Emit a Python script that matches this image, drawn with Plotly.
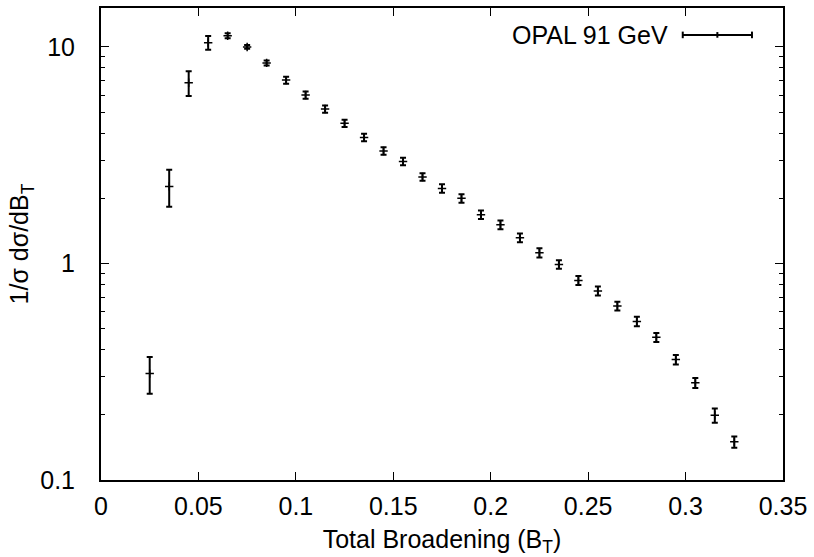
import plotly.graph_objects as go

# Data (bin centres, values, symmetric errors)
bt = [0.025, 0.035, 0.045, 0.055, 0.065, 0.075, 0.085, 0.095, 0.105, 0.115,
      0.125, 0.135, 0.145, 0.155, 0.165, 0.175, 0.185, 0.195, 0.205, 0.215,
      0.225, 0.235, 0.245, 0.255, 0.265, 0.275, 0.285, 0.295, 0.305, 0.315, 0.325]
val = [0.31, 2.27, 6.83, 10.47, 11.27, 10.0, 8.44, 7.03, 6.0, 5.17,
       4.44, 3.82, 3.31, 2.96, 2.51, 2.22, 2.0, 1.68, 1.51, 1.315,
       1.12, 0.99, 0.835, 0.747, 0.636, 0.540, 0.456, 0.360, 0.281, 0.199, 0.150]
err = [0.06, 0.44, 0.9, 0.76, 0.30, 0.20, 0.22, 0.26, 0.23, 0.20,
       0.17, 0.15, 0.13, 0.12, 0.10, 0.10, 0.09, 0.075, 0.07, 0.06,
       0.055, 0.045, 0.04, 0.035, 0.03, 0.027, 0.022, 0.018, 0.015, 0.015, 0.009]

x_ticks = [0, 0.05, 0.1, 0.15, 0.2, 0.25, 0.3, 0.35]
x_ticktext = ["0", "0.05", "0.1", "0.15", "0.2", "0.25", "0.3", "0.35"]
y_ticks = [0.1, 1, 10]
y_ticktext = ["0.1", "1", "10"]
series_name = "OPAL 91 GeV"

FONT = "Liberation Sans, Arial, Helvetica, sans-serif"
FS = 25

fig = go.Figure()
fig.add_trace(go.Scatter(
    x=bt, y=val, mode="markers", name=series_name, showlegend=False,
    marker=dict(symbol="cross-thin", size=6, color="black",
                line=dict(color="black", width=1.5)),
    error_y=dict(type="data", array=err, visible=True, color="black",
                 thickness=2, width=3),
))

axis_common = dict(
    showline=True, linecolor="black", linewidth=2, mirror="allticks",
    ticks="inside", ticklen=8, tickwidth=1, tickcolor="black",
    showgrid=False, zeroline=False,
    tickfont=dict(family=FONT, size=FS, color="black"),
)

fig.update_xaxes(
    range=[0, 0.35], tickvals=x_ticks, ticktext=x_ticktext,
    title=dict(text="Total Broadening (B<sub>T</sub>)",
               font=dict(family=FONT, size=FS, color="black"), standoff=12),
    ticklabelstandoff=3,
    **axis_common,
)
fig.update_yaxes(
    type="log", range=[-1, 1.18], tickvals=y_ticks, ticktext=y_ticktext,
    minor=dict(ticks="inside", ticklen=4, tickcolor="black", tickwidth=1,
               dtick="D1", showgrid=False),
    title=dict(text="1/σ dσ/dB<sub>T</sub>",
               font=dict(family=FONT, size=FS, color="black"), standoff=4),
    ticklabelstandoff=19,
    **axis_common,
)

# Manual legend (gnuplot style: text then a horizontal error-bar sample)
fig.add_annotation(xref="paper", yref="paper", x=0.834, y=0.943,
                   xanchor="right", yanchor="middle", showarrow=False,
                   text=series_name,
                   font=dict(family=FONT, size=FS, color="black"))
lx0, lx1, ly = 0.853, 0.9545, 0.943
fig.add_shape(type="line", xref="paper", yref="paper", x0=lx0, x1=lx1,
              y0=ly, y1=ly, line=dict(color="black", width=2))
for xx, h in [(lx0, 0.007), (lx1, 0.007), ((lx0 + lx1) / 2, 0.006)]:
    fig.add_shape(type="line", xref="paper", yref="paper", x0=xx, x1=xx,
                  y0=ly - h, y1=ly + h, line=dict(color="black", width=2))

fig.update_layout(
    width=814, height=557,
    margin=dict(l=101, r=31, t=6, b=77),
    paper_bgcolor="white", plot_bgcolor="white",
    font=dict(family=FONT, size=FS, color="black"),
)

fig.write_html(
    "out.html",
    config={"displayModeBar": False},
    post_script="document.body.style.margin='0';document.body.style.overflow='hidden';",
)
